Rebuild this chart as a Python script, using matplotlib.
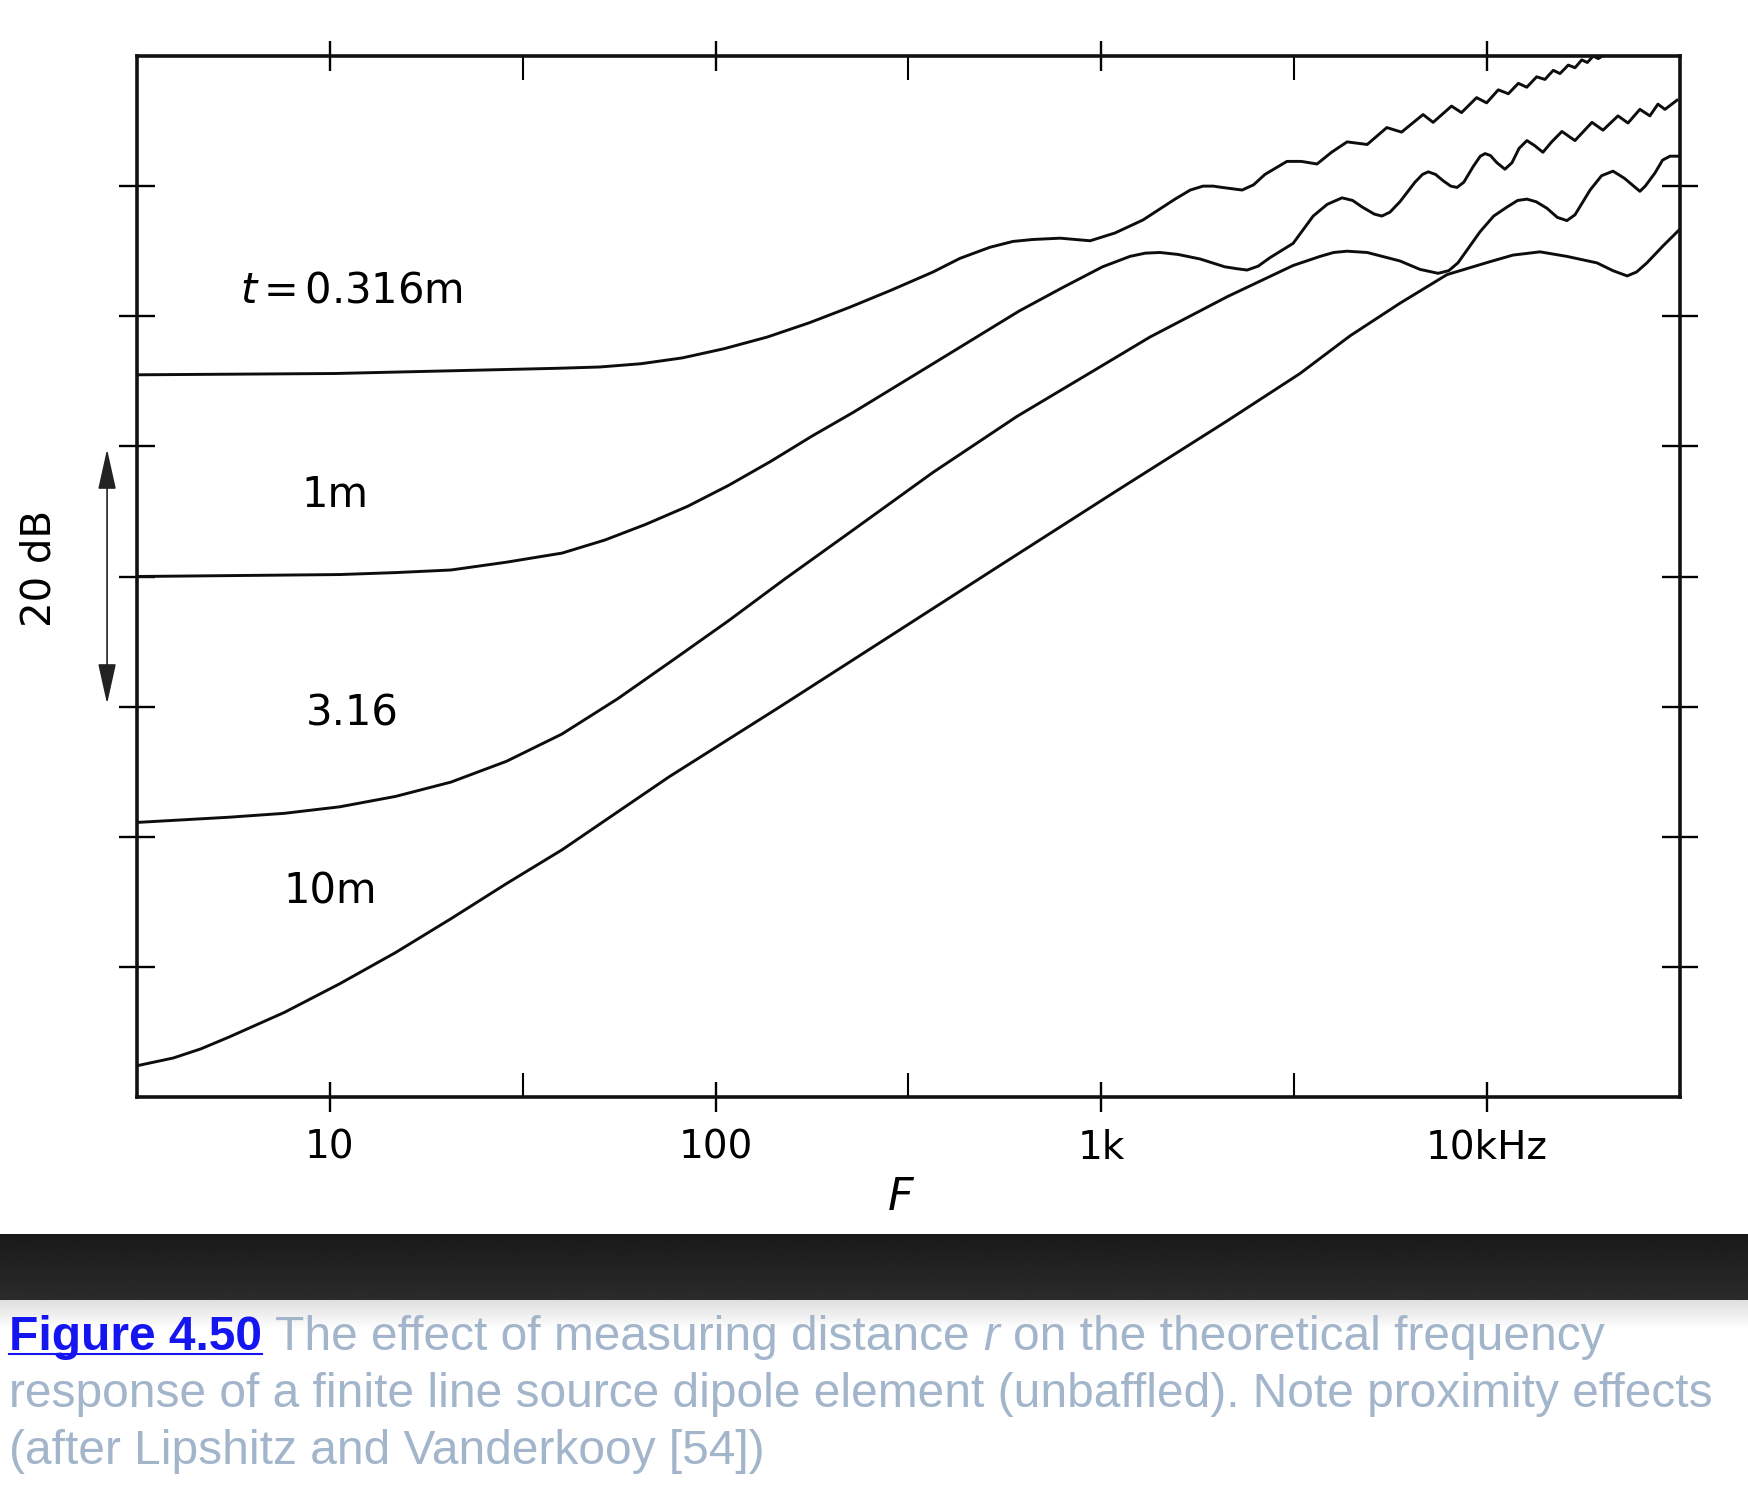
import numpy as np
import matplotlib.pyplot as plt
from matplotlib.lines import Line2D

# Values: frequency (Hz) and level (dB), one list per distance
freq_0316 = [3.16, 10.3, 20.0, 38.8, 50, 64, 82, 105, 136, 175, 223, 285, 366, 430, 514,
             590, 665, 782, 935, 1085, 1282, 1552, 1700, 1835, 1950, 2056, 2317, 2480, 2655,
             3027, 3300, 3622, 3950, 4335, 4887, 5495, 6000, 6823, 7244, 8085, 8583, 9391,
             9970, 10690, 11350, 12050, 12670, 13440, 14120, 14840, 15450, 16230, 16900,
             17590, 18190, 18840, 19410, 20420, 31620]
level_0316 = [55.5, 55.6, 55.8, 56.0, 56.1, 56.35, 56.8, 57.5, 58.4, 59.5, 60.7, 62.0, 63.4,
              64.45, 65.3, 65.75, 65.9, 66.0, 65.8, 66.4, 67.4, 69.0, 69.7, 70.0, 70.0, 69.9,
              69.7, 70.1, 70.9, 71.9, 71.9, 71.7, 72.6, 73.4, 73.2, 74.5, 74.15, 75.5, 74.9,
              76.15, 75.65, 76.8, 76.4, 77.4, 77.1, 77.9, 77.6, 78.4, 78.2, 78.9, 78.65, 79.3,
              79.1, 79.7, 79.5, 80.0, 79.8, 80.2, 80.2]

freq_1 = [3.16, 10.6, 14.8, 20.6, 28.7, 40, 51.6, 65.8, 84.7, 108, 139, 178, 227, 373, 612,
          793, 1007, 1186, 1300, 1419, 1580, 1803, 2089, 2250, 2386, 2550, 2735, 3141, 3540,
          3850, 4206, 4480, 4740, 5100, 5336, 5600, 5943, 6500, 6800, 7036, 7350, 7700, 8050,
          8356, 8700, 9200, 9600, 9880, 10200, 10600, 11120, 11600, 12100, 12680, 13300,
          13950, 14700, 15630, 16890, 18700, 19970, 21840, 23180, 24890, 26420, 27720, 28910,
          31050]
level_1 = [40.0, 40.15, 40.3, 40.5, 41.1, 41.8, 42.8, 44.0, 45.4, 47.0, 48.85, 50.8, 52.6,
           56.5, 60.4, 62.2, 63.8, 64.6, 64.85, 64.9, 64.75, 64.4, 63.8, 63.65, 63.55, 63.85,
           64.5, 65.6, 67.7, 68.6, 69.1, 68.9, 68.4, 67.85, 67.7, 68.0, 68.8, 70.3, 70.9, 71.1,
           70.9, 70.4, 70.0, 69.9, 70.3, 71.5, 72.3, 72.5, 72.35, 71.8, 71.3, 71.8, 72.9, 73.5,
           73.1, 72.6, 73.4, 74.2, 73.5, 74.9, 74.3, 75.4, 74.85, 75.9, 75.4, 76.3, 75.9, 76.6]

freq_316 = [3.16, 5.47, 7.62, 10.6, 14.8, 20.6, 28.7, 40, 55.7, 77.7, 108, 151, 223, 366, 604,
            991, 1336, 2119, 3141, 3690, 4000, 4335, 4887, 5943, 6700, 7464, 7950, 8400, 9590,
            10400, 11270, 12000, 12680, 13400, 14290, 15200, 16100, 16900, 18490, 19800,
            21200, 22700, 24890, 25700, 27220, 28500, 29790, 31620]
level_316 = [21.1, 21.5, 21.8, 22.3, 23.1, 24.2, 25.8, 27.9, 30.6, 33.6, 36.6, 39.8, 43.4,
             48.0, 52.3, 56.1, 58.4, 61.5, 63.9, 64.6, 64.9, 65.0, 64.9, 64.25, 63.6, 63.3,
             63.5, 64.1, 66.5, 67.7, 68.4, 68.9, 69.0, 68.8, 68.3, 67.6, 67.35, 67.8, 69.7,
             70.8, 71.15, 70.6, 69.6, 70.0, 71.0, 72.0, 72.3, 72.3]

freq_10 = [3.16, 3.93, 4.63, 5.47, 7.62, 10.6, 14.8, 20.6, 28.7, 40, 75.7, 147, 286, 556,
           1084, 2104, 3273, 4416, 5943, 7870, 10190, 11670, 13710, 16100, 19270, 21200,
           23070, 24400, 25950, 28560, 31620]
level_10 = [2.4, 3.0, 3.7, 4.6, 6.5, 8.7, 11.1, 13.7, 16.4, 19.0, 24.6, 30.0, 35.5, 41.0,
            46.5, 51.9, 55.6, 58.5, 61.0, 63.2, 64.2, 64.7, 64.95, 64.6, 64.1, 63.5, 63.1,
            63.4, 64.1, 65.4, 66.7]

curve_labels = [r'$t\,$=$\,$0.316m', '1m', '3.16', '10m']
label_freq = [11.4, 10.3, 11.4, 10.0]
label_level = [62.0, 46.3, 29.5, 15.8]

xtick_pos = [10, 100, 1000, 10000]
xtick_text = ['10', '100', '1k', '10kHz']
xminor_pos = [31.6, 316, 3162]
ytick_pos = [10, 20, 30, 40, 50, 60, 70]

caption_1 = ['Figure 4.50', 'The effect of measuring distance', 'r', 'on the theoretical frequency']
caption_2 = 'response of a finite line source dipole element (unbaffled). Note proximity effects'
caption_3 = '(after Lipshitz and Vanderkooy [54])'

W, H = 1748, 1492
fig = plt.figure(figsize=(W / 100, H / 100), dpi=100)
fig.patch.set_facecolor('white')

ax = fig.add_axes([137 / W, 1 - 1097 / H, 1543 / W, 1041 / H])
for f, lv in [(freq_0316, level_0316), (freq_1, level_1), (freq_316, level_316), (freq_10, level_10)]:
    ax.plot(f, lv, color='#0d0d0d', lw=2.1, solid_joinstyle='round')

ax.set_xscale('log')
ax.set_xlim(10 ** 0.5, 10 ** 4.5)
ax.set_ylim(0, 80)
ax.set_xticks(xtick_pos)
ax.set_xticklabels(xtick_text)
ax.set_xticks(xminor_pos, minor=True)
ax.xaxis.set_minor_formatter(plt.NullFormatter())
ax.set_yticks(ytick_pos)

ax.tick_params(axis='x', which='major', direction='inout', length=22, width=1.7,
               top=True, bottom=True, labelsize=28, pad=12)
ax.tick_params(axis='x', which='minor', direction='in', length=17, width=1.5,
               top=True, bottom=True)
ax.tick_params(axis='y', which='major', direction='inout', length=26, width=1.7,
               left=True, right=True, labelleft=False)
for s in ax.spines.values():
    s.set_linewidth(2.6)
    s.set_color('#111111')

for txt, fx, lv in zip(curve_labels, label_freq, label_level):
    ax.text(fx, lv, txt, fontsize=30, ha='center', va='center')

# axis label F and the 20 dB scale arrow
ax.text(0.495, -0.097, 'F', transform=ax.transAxes, fontsize=32, fontstyle='italic',
        ha='center', va='center')
ax.annotate('', xy=(-0.0194, 50), xytext=(-0.0194, 30), xycoords=ax.get_yaxis_transform(),
            textcoords=ax.get_yaxis_transform(), annotation_clip=False,
            arrowprops=dict(arrowstyle='<|-|>,head_length=0.9,head_width=0.2',
                            mutation_scale=28, lw=1.2, color='#222222'))
ax.text(-0.0635, 40.6, '20 dB', transform=ax.get_yaxis_transform(), rotation=90,
        fontsize=29, ha='center', va='center')

# dark band and caption
bar = fig.add_axes([0, 1 - 1300 / H, 1, 66 / H])
bar.imshow(np.linspace(0.10, 0.17, 60)[:, None], cmap='gray', vmin=0, vmax=1,
           aspect='auto', extent=[0, 1, 0, 1])
bar.axis('off')
glow = fig.add_axes([0, 1 - 1330 / H, 1, 30 / H])
glow.imshow(np.linspace(0.87, 1.0, 30)[:, None], cmap='gray', vmin=0, vmax=1,
            aspect='auto', extent=[0, 1, 0, 1])
glow.axis('off')

cap_fs = 34.5
cap_col = '#a3b5cb'
cap_font = 'Liberation Sans'
space = 0.278 * cap_fs * 100 / 72
renderer = fig.canvas.get_renderer()

x = 9
y1 = 1 - 1350 / H
t = fig.text(x / W, y1, caption_1[0], color='#1515f2', fontweight='bold', fontsize=cap_fs,
             family=cap_font, va='baseline')
bb = t.get_window_extent(renderer)
fig.add_artist(Line2D([bb.x0 / W, bb.x1 / W], [(H - 1354) / H, (H - 1354) / H],
                      transform=fig.transFigure, color='#1515f2', lw=1.5))
x = bb.x1 + space
for piece in caption_1[1:]:
    t = fig.text(x / W, y1, piece, color=cap_col, fontsize=cap_fs, family=cap_font,
                 va='baseline', fontstyle='italic' if piece == 'r' else 'normal')
    bb = t.get_window_extent(renderer)
    x = bb.x1 + space

fig.text(9 / W, 1 - 1407 / H, caption_2, color=cap_col, fontsize=cap_fs, family=cap_font,
         va='baseline')
fig.text(9 / W, 1 - 1464 / H, caption_3, color=cap_col, fontsize=cap_fs, family=cap_font,
         va='baseline')

fig.savefig('out.png', dpi=100, facecolor='white')
